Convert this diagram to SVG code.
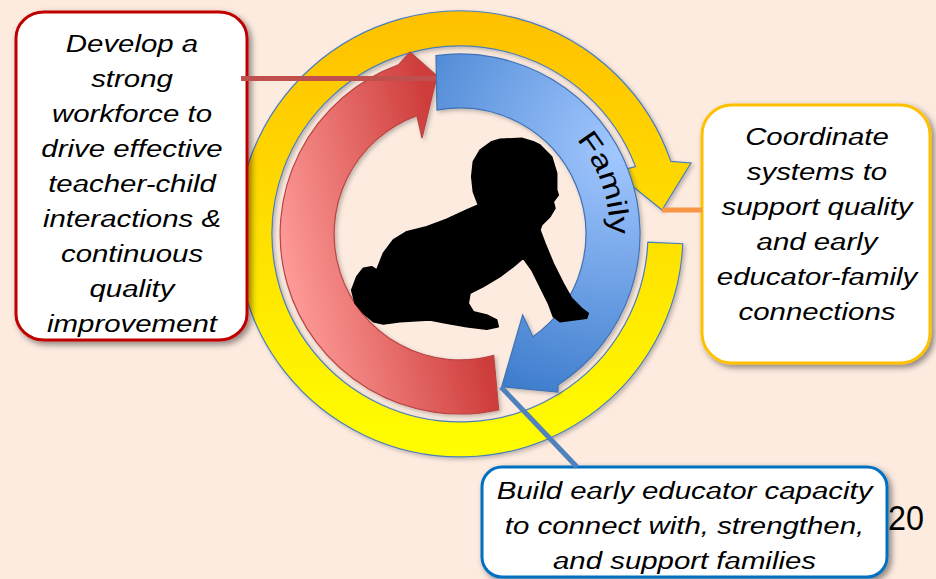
<svg xmlns="http://www.w3.org/2000/svg" width="936" height="579" viewBox="0 0 936 579">
<defs>
<linearGradient id="gY" gradientUnits="userSpaceOnUse" x1="0" y1="10" x2="0" y2="458">
<stop offset="0" stop-color="#FFC000"/><stop offset="1" stop-color="#FFFF00"/>
</linearGradient>
<linearGradient id="gR" gradientUnits="userSpaceOnUse" x1="285" y1="300" x2="463" y2="260">
<stop offset="0" stop-color="#FF9E9B"/><stop offset="1" stop-color="#CE3D3B"/>
</linearGradient>
<radialGradient id="gB" gradientUnits="userSpaceOnUse" cx="620" cy="150" r="270">
<stop offset="0" stop-color="#A3C8FF"/><stop offset="1" stop-color="#3A7ACB"/>
</radialGradient>
<filter id="shBox" x="-10%" y="-10%" width="130%" height="130%">
<feDropShadow dx="3" dy="3" stdDeviation="3" flood-color="#000" flood-opacity="0.45"/>
</filter>
<filter id="shRing" x="-10%" y="-10%" width="130%" height="130%">
<feDropShadow dx="2" dy="2" stdDeviation="2" flood-color="#000" flood-opacity="0.25"/>
</filter>
<path id="famArc" d="M 576.5 139.5 A 150 150 0 0 1 607.7 260"/>
</defs>
<style>
.box{fill:#fff;stroke-width:3}
.lbl{font-family:"Liberation Sans",Arial,sans-serif;font-style:italic;font-size:24.5px;fill:#000;text-anchor:middle}
.ring{stroke-width:1.2;stroke-linejoin:miter}
.conn{fill:none;stroke-width:5}
</style>
<rect width="936" height="579" fill="#FDEBE0"/>

<g id="cycle">
<path id="ring-yellow" class="ring" filter="url(#shRing)" fill="url(#gY)" stroke="#4A7EBB" d="M 682.8 243.7 A 223 223 0 1 1 670.9 161.4 L 691 163 L 662 210 L 615 172 L 635.5 166.6 A 188 188 0 1 0 647.8 242.2 Z"/>
<path id="ring-red" class="ring" filter="url(#shRing)" fill="url(#gR)" stroke="#B94542" d="M 498.7 409.8 A 180 180 0 0 1 398.4 64.9 L 410 52 L 437 76 L 422 138 L 416.9 115.6 A 126 126 0 0 0 493.7 355.4 Z"/>
<path id="ring-blue" class="ring" filter="url(#shRing)" fill="url(#gB)" stroke="#3F72B5" d="M 436 55.6 A 180 180 0 0 1 558 385 L 558 392 L 501.7 386.7 L 522.7 315 L 532.9 336.7 A 126 126 0 0 0 437 110.1 Z"/>
<text font-family="'Liberation Sans',Arial,sans-serif" font-size="28" fill="#000"><textPath href="#famArc" textLength="103" lengthAdjust="spacingAndGlyphs">Family</textPath></text>
<path id="baby" fill="#000" stroke="#000" stroke-width="1.5" stroke-linejoin="round" d="M 540 145 L 551.7 156.7 L 556.7 173.3 L 556.7 190 L 558.3 195 L 553.3 201.7 L 555 208.3 L 550 216.7 L 541.7 225 L 540 230 L 545 243.3 L 553.3 263.3 L 563.3 283.3 L 571.7 298.3 L 581.7 308.3 L 588.3 313.3 L 586.7 318.3 L 573.3 320 L 560 321.7 L 553.3 316.7 L 548.3 303.3 L 540 286.7 L 531.7 270 L 523.3 258.3 L 513.3 266.7 L 500 276.7 L 483.3 286.7 L 470 293.3 L 468.3 303.3 L 473.3 311.7 L 486.7 315 L 496.7 320 L 498.3 326.7 L 486.7 329.3 L 466.7 326.7 L 446.7 323.3 L 430 320 L 416.7 320.7 L 400 321.7 L 383.3 324 L 373.3 321.7 L 363.3 313.3 L 355 303.3 L 351.7 290 L 356.7 276.7 L 363.3 268.3 L 371.7 266.7 L 376.7 270 L 383.3 253.3 L 393.3 240 L 406.7 231.7 L 426.7 226.7 L 446.7 219.3 L 466.7 210 L 478.3 205 L 473.3 191.7 L 471.7 176.7 L 473.3 161.7 L 480 150 L 491.7 141.7 L 500 139.3 L 521.7 138.3 L 533.3 141.7 Z"/>
</g>

<g id="box-workforce">
<rect class="box" filter="url(#shBox)" stroke="#C00000" x="16" y="12" width="231" height="328" rx="28" ry="26"/>
<g transform="translate(132 0) scale(1.2 1)">
<text class="lbl"><tspan x="0" y="52">Develop a</tspan><tspan x="0" y="87">strong</tspan><tspan x="0" y="122">workforce to</tspan><tspan x="0" y="157">drive effective</tspan><tspan x="0" y="192">teacher-child</tspan><tspan x="0" y="227">interactions &amp;</tspan><tspan x="0" y="262">continuous</tspan><tspan x="0" y="297">quality</tspan><tspan x="0" y="332">improvement</tspan></text>
</g>
</g>

<g id="box-coordinate">
<rect class="box" filter="url(#shBox)" stroke="#FFC000" x="702" y="105" width="228" height="258" rx="30" ry="30"/>
<g transform="translate(817 0) scale(1.2 1)">
<text class="lbl"><tspan x="0" y="145">Coordinate</tspan><tspan x="0" y="180">systems to</tspan><tspan x="0" y="215">support quality</tspan><tspan x="0" y="250">and early</tspan><tspan x="0" y="285">educator-family</tspan><tspan x="0" y="320">connections</tspan></text>
</g>
</g>

<g id="box-capacity">
<rect class="box" filter="url(#shBox)" stroke="#0070C0" x="482" y="467" width="405" height="110" rx="20" ry="20"/>
<g transform="translate(684.5 0) scale(1.2 1)">
<text class="lbl"><tspan x="0" y="499.5">Build early educator capacity</tspan><tspan x="0" y="534.5">to connect with, strengthen,</tspan><tspan x="0" y="569.5">and support families</tspan></text>
</g>
</g>

<g id="connectors">
<line class="conn" stroke="#C0504D" x1="241" y1="78.5" x2="436" y2="78.5"/>
<line class="conn" stroke="#F79646" x1="662" y1="210" x2="702" y2="210"/>
<line class="conn" stroke="#4F81BD" x1="501" y1="387" x2="577" y2="467"/>
</g>

<text id="page-number" x="888" y="530" font-family="'Liberation Sans',Arial,sans-serif" font-size="35" textLength="36" lengthAdjust="spacingAndGlyphs" fill="#000">20</text>
</svg>
